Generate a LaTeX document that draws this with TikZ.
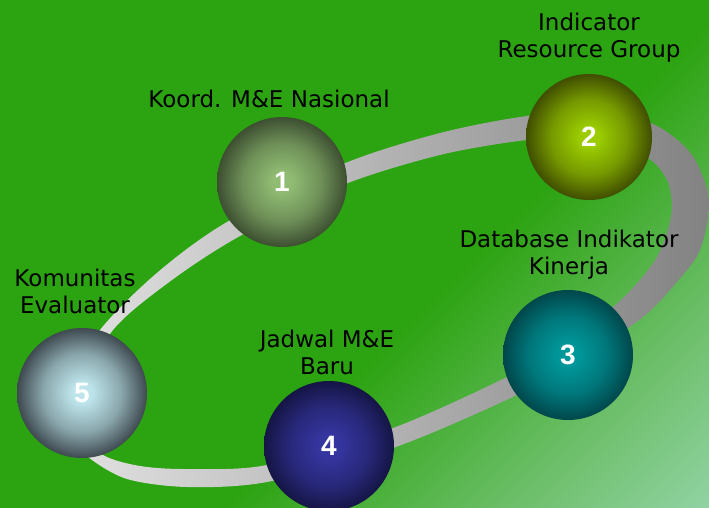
\documentclass[tikz,border=0pt]{standalone}
\usepackage{fontspec}
\setmainfont{DejaVu Sans}
\newfontfamily\numfont{Liberation Sans}

\definecolor{bgdark}{HTML}{2CA311}
\definecolor{bgmid}{HTML}{6DBF6A}
\definecolor{bglight}{HTML}{90D2A2}
\definecolor{ringlight}{HTML}{E4E4E4}
\definecolor{ringdark}{HTML}{828282}

\pgfdeclarehorizontalshading{bgfade}{100bp}{color(0bp)=(bgdark); color(55bp)=(bgdark); color(67bp)=(bgmid); color(75bp)=(bglight); color(100bp)=(bglight)}
\pgfdeclareradialshading[orbin,orbmid,orbout]{orbshade}{\pgfpoint{0bp}{0bp}}{color(0bp)=(orbin); color(4bp)=(orbin); color(15bp)=(orbmid); color(25bp)=(orbout); color(50bp)=(orbout)}

\tikzset{
  orb/.style 2 args={circle, minimum size=130pt, inner sep=0pt,
    /utils/exec={\definecolor{orbin}{HTML}{#1}\definecolor{orbout}{HTML}{#2}\colorlet{orbmid}{orbin!60!orbout}},
    shade, shading=orbshade, text=white,
    font=\numfont\bfseries\fontsize{28}{28}\selectfont},
  tag/.style={align=center, anchor=north, inner sep=0pt, font=\fontsize{23}{27}\selectfont},
  ringpart/.style={even odd rule, left color=ringlight, right color=ringdark}
}

\begin{document}
\begin{tikzpicture}[x=1pt,y=-1pt]
\useasboundingbox (0,0) rectangle (709,508);
\begin{scope}
\clip (0,0) rectangle (709,508);
\shade[shading=bgfade, shading angle=-45] (-76,-176.5) rectangle (785,684.5);
\end{scope}
\shade[ringpart] plot[smooth cycle] coordinates {(58,400) (100,330) (158,272) (227,222) (343,164) (440,133) (527,116) (600,112) (655,125) (692,155) (709,200) (700,250) (676,283) (643,317) (582,358) (517,395) (393,448) (267,482) (187,487) (127,479) (88,457) (64,430)}
  plot[smooth cycle] coordinates {(75,400) (113,330) (172,280) (240,236) (343,185) (440,155) (527,140) (600,137) (648,158) (667,180) (672,207) (667,233) (657,257) (640,280) (613,307) (560,345) (507,377) (393,428) (267,465) (187,469) (140,466) (103,455) (82,430)};
\node[orb={8FBB72}{3D4F31}] (n1) at (282,182) {1};
\node[orb={9ACC00}{404E00}, minimum size=126pt] (n2) at (589,137) {2};
\node[orb={00979A}{00474B}] (n3) at (568,355) {3};
\node[orb={3535A0}{151545}] (n4) at (329,446) {4};
\node[orb={BCE4EA}{3E4A50}] (n5) at (82,393) {5};
\node[tag] (t1) at (269,89.5) {Koord. M\&E Nasional};
\node[tag] (t2) at (589,12.5) {Indicator\\Resource Group};
\node[tag] (t3) at (569,229.5) {Database Indikator\\Kinerja};
\node[tag] (t4) at (327,329.5) {Jadwal M\&E\\Baru};
\node[tag] (t5) at (75,268.5) {Komunitas\\Evaluator};
\end{tikzpicture}
\end{document}
